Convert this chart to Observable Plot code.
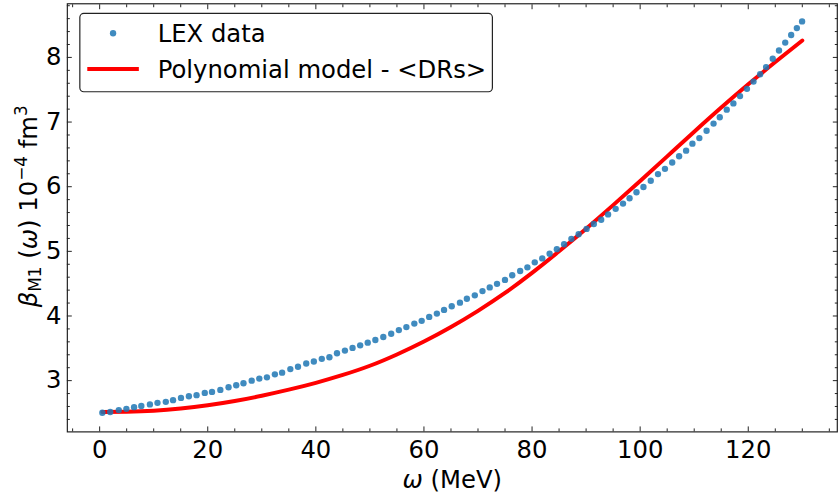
<!DOCTYPE html>
<html>
<head>
<meta charset="utf-8">
<script src="https://cdn.jsdelivr.net/npm/d3@7"></script>
<script src="https://cdn.jsdelivr.net/npm/@observablehq/plot@0.6"></script>
<style>
html, body { margin: 0; padding: 0; overflow: hidden; background: white; }
#chart { width: 839px; height: 503px; overflow: hidden; }
</style>
</head>
<body>
<div id="chart"></div>
<script>
// LEX data
const lexX = [0.50,1.96,3.54,4.95,6.37,7.71,9.30,10.70,12.24,13.58,
  15.05,16.51,17.93,19.45,20.79,22.33,23.85,25.27,26.61,28.13,
  29.54,30.95,32.42,33.76,35.28,36.70,38.22,39.63,41.10,42.51,
  43.91,45.38,46.79,48.20,49.60,51.01,52.48,53.94,55.36,56.75,
  58.22,59.58,60.97,62.39,63.72,65.14,66.66,67.94,69.41,70.83,
  72.17,73.52,74.99,76.33,77.80,79.14,80.50,81.89,83.25,84.59,
  85.93,87.28,88.62,90.09,91.43,92.79,94.07,95.47,96.83,98.04,
  99.32,100.61,101.96,103.30,104.59,105.93,107.21,108.50,109.67,110.95,
  112.29,113.58,114.73,116.02,117.25,118.48,119.76,120.97,122.20,123.30,
  124.53,125.69,126.84,127.94,128.99,129.96];
const lexY = [2.503,2.514,2.544,2.564,2.590,2.607,2.632,2.656,2.672,2.698,
  2.733,2.759,2.775,2.810,2.825,2.856,2.898,2.928,2.959,3.000,
  3.031,3.051,3.097,3.123,3.178,3.215,3.265,3.296,3.337,3.362,
  3.423,3.465,3.506,3.546,3.587,3.629,3.675,3.725,3.782,3.828,
  3.883,3.925,3.986,4.037,4.094,4.150,4.206,4.267,4.319,4.385,
  4.442,4.497,4.558,4.630,4.696,4.753,4.830,4.891,4.963,5.034,
  5.110,5.193,5.264,5.347,5.423,5.489,5.571,5.658,5.739,5.822,
  5.914,5.995,6.092,6.195,6.276,6.374,6.471,6.558,6.666,6.752,
  6.865,6.977,7.074,7.192,7.288,7.402,7.514,7.626,7.739,7.851,
  7.979,8.107,8.230,8.347,8.454,8.557];

// Polynomial model - <DRs>
const polyX = [0.5,5,10,15,20,25,30,35,40,45,50,55,60,65,70,75,80,85,90,95,100,105,110,115,120,125,130];
const polyY = [2.515,2.520,2.535,2.568,2.618,2.684,2.766,2.860,2.966,3.088,3.230,3.405,3.605,3.830,4.080,4.356,4.666,5.001,5.351,5.715,6.089,6.469,6.850,7.224,7.584,7.929,8.262];

// tick values
const xMajor = [0,20,40,60,80,100,120];
const xMinor = [-5,5,10,15,25,30,35,45,50,55,65,70,75,85,90,95,105,110,115,125,130,135];
const yMajor = [3,4,5,6,7,8];
const yMinor = [2.4,2.6,2.8,3.2,3.4,3.6,3.8,4.2,4.4,4.6,4.8,5.2,5.4,5.6,5.8,6.2,6.4,6.6,6.8,7.2,7.4,7.6,7.8,8.2,8.4,8.6,8.8];

const lex = lexX.map((x, i) => ({x, y: lexY[i]}));
const poly = polyX.map((x, i) => ({x, y: polyY[i]}));

const blue = "#1f77b4";
const none = () => "";
const FS = 24.5;

const svg = Plot.plot({
  width: 846,
  height: 503,
  marginLeft: 67.4,
  marginRight: 2.2,
  marginTop: 3.3,
  marginBottom: 68,
  x: {domain: [-5.975, 136.475]},
  y: {domain: [2.207, 8.83]},
  style: {fontFamily: "DejaVu Sans", fontSize: FS + "px", color: "black", background: "white"},
  marks: [
    Plot.line(poly, {x: "x", y: "y", stroke: "red", strokeWidth: 4, curve: "natural"}),
    Plot.dot(lex, {x: "x", y: "y", r: 3.2, fill: blue, fillOpacity: 0.85, stroke: "none"}),
    Plot.axisX(xMajor, {anchor: "bottom", tickSize: -5, tickPadding: 13.5, tickFormat: d => String(d), label: null, fontSize: FS, stroke: "#222"}),
    Plot.axisX(xMinor, {anchor: "bottom", tickSize: -3, tickFormat: none, label: null, stroke: "#222"}),
    Plot.axisX(xMajor, {anchor: "top", tickSize: -5, tickFormat: none, label: null, stroke: "#222"}),
    Plot.axisX(xMinor, {anchor: "top", tickSize: -3, tickFormat: none, label: null, stroke: "#222"}),
    Plot.axisY(yMajor, {anchor: "left", tickSize: -5, tickPadding: 11, tickFormat: d => String(d), label: null, fontSize: FS, stroke: "#222"}),
    Plot.axisY(yMinor, {anchor: "left", tickSize: -3, tickFormat: none, label: null, stroke: "#222"}),
    Plot.axisY(yMajor, {anchor: "right", tickSize: -5, tickFormat: none, label: null, stroke: "#222"}),
    Plot.axisY(yMinor, {anchor: "right", tickSize: -3, tickFormat: none, label: null, stroke: "#222"}),
    Plot.frame({stroke: "#222", strokeWidth: 1.2})
  ]
});

const s = d3.select(svg);

// x-axis label
const xl = s.append("text")
  .attr("x", 456).attr("y", 492)
  .attr("text-anchor", "middle")
  .attr("font-size", FS)
  .attr("fill", "black");
xl.append("tspan").attr("font-style", "italic").text("ω");
xl.append("tspan").text(" (MeV)");

// y-axis label
const yl = s.append("text")
  .attr("transform", "translate(37,208) rotate(-90)")
  .attr("text-anchor", "middle")
  .attr("font-size", FS)
  .attr("fill", "black");
yl.append("tspan").attr("font-style", "italic").text("β");
yl.append("tspan").attr("font-size", 17).attr("dy", 4).text("M1");
yl.append("tspan").attr("dy", -4).text(" (");
yl.append("tspan").attr("font-style", "italic").text("ω");
yl.append("tspan").text(") 10");
yl.append("tspan").attr("font-size", 17).attr("dy", -10).text("−4");
yl.append("tspan").attr("dy", 10).text(" fm");
yl.append("tspan").attr("font-size", 17).attr("dy", -10).text("3");

// legend
const lg = s.append("g").attr("text-anchor", "start");
lg.append("rect")
  .attr("x", 80.5).attr("y", 13.5).attr("width", 416).attr("height", 79)
  .attr("rx", 4).attr("ry", 4)
  .attr("fill", "white").attr("fill-opacity", 0.8)
  .attr("stroke", "#222").attr("stroke-width", 1.2);
lg.append("circle").attr("cx", 114).attr("cy", 33.5).attr("r", 3.2)
  .attr("fill", blue).attr("fill-opacity", 0.85);
lg.append("text").attr("x", 159).attr("y", 42.5).attr("text-anchor", "start")
  .attr("font-size", FS).attr("fill", "black").text("LEX data");
lg.append("line").attr("x1", 88).attr("x2", 140).attr("y1", 69.5).attr("y2", 69.5)
  .attr("stroke", "red").attr("stroke-width", 4);
lg.append("text").attr("x", 159).attr("y", 78.5).attr("text-anchor", "start")
  .attr("font-size", FS).attr("fill", "black").text("Polynomial model - <DRs>");

document.getElementById("chart").appendChild(svg);
</script>
</body>
</html>
